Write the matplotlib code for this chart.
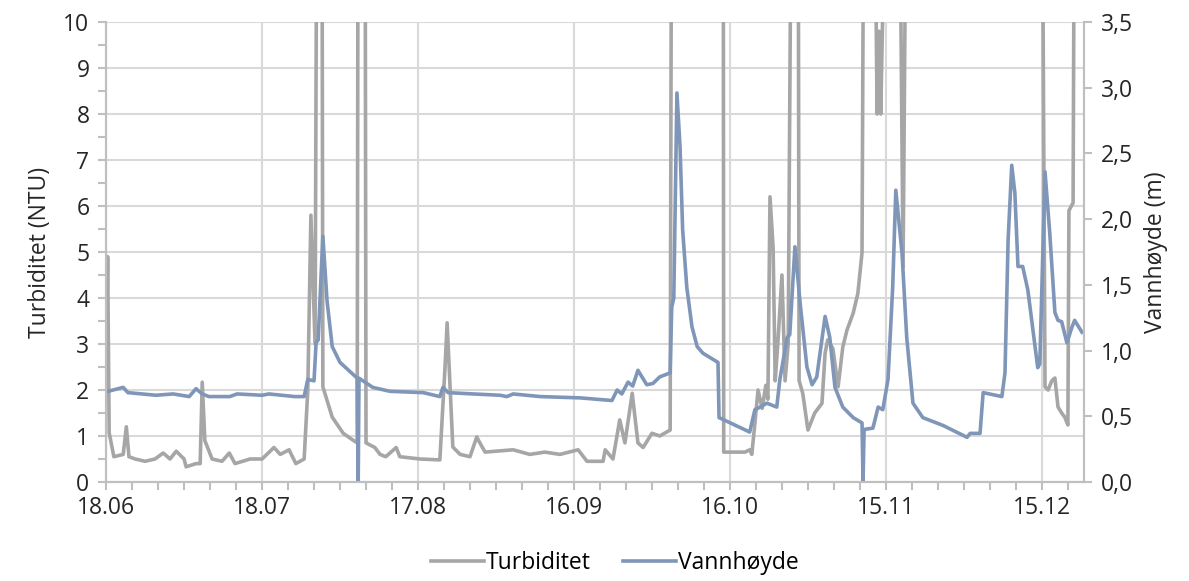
import matplotlib.pyplot as plt
from matplotlib.ticker import MultipleLocator, FuncFormatter

# days after 18.06, turbidity (NTU); values of 15 are off the top of the scale
turb_day = [0, 0.3, 0.6, 1.5, 3.3, 3.9, 4.4, 5.6, 7.5, 9.4, 11.0, 12.3, 13.5, 15.0, 15.4,
            17.3, 18.1, 18.5, 19.0, 20.4, 22.3, 23.7, 24.8, 27.7, 30.0, 32.3, 33.5, 35.2,
            36.5, 38.1, 38.8, 39.4, 40.2, 40.6, 41.5, 41.7, 43.5, 45.6, 47.5, 48.3, 48.5,
            49.8, 50.0, 51.7, 52.7, 53.8, 55.8, 56.5, 60.4, 64.2, 65.2, 65.6, 66.2, 66.7,
            68.1, 70.0, 71.3, 71.9, 72.9, 78.3, 81.5, 84.4, 87.3, 90.8, 92.5, 95.6, 96.0,
            97.5, 98.8, 99.8, 101.2, 102.3, 103.3, 105.0, 106.5, 108.5, 108.8, 118.7,
            118.8, 122.9, 123.8, 124.2, 124.8, 125.4, 126.2, 126.9, 127.3, 127.7, 128.3,
            128.7, 129.2, 130.0, 130.6, 131.2, 131.9, 133.1, 133.3, 134.0, 135.0, 136.3,
            137.7, 138.3, 138.8, 139.8, 140.8, 141.7, 142.5, 143.7, 144.6, 145.4, 145.8,
            147.7, 148.3, 148.7, 149.0, 149.4, 150.0, 152.5, 153.3, 154.0, 180.0, 180.6,
            181.2, 181.9, 182.5, 183.1, 183.8, 184.4, 185.0, 185.2, 186.0, 186.3]
turb_val = [2.0, 4.9, 1.07, 0.55, 0.6, 1.2, 0.55, 0.5, 0.45, 0.5, 0.63, 0.5, 0.67, 0.5, 0.33,
            0.4, 0.4, 2.17, 0.9, 0.5, 0.45, 0.63, 0.4, 0.5, 0.5, 0.75, 0.6, 0.7,
            0.4, 0.5, 2.0, 5.8, 3.0, 15, 15, 2.07, 1.41, 1.06, 0.91, 0.85, 15,
            15, 0.85, 0.75, 0.6, 0.55, 0.75, 0.55, 0.5, 0.48, 2.5, 3.46, 2.0, 0.76,
            0.6, 0.55, 0.98, 0.85, 0.65, 0.7, 0.6, 0.65, 0.6, 0.7, 0.45, 0.45, 0.7,
            0.5, 1.35, 0.85, 1.93, 0.85, 0.75, 1.06, 1.0, 1.13, 15, 15,
            0.65, 0.65, 0.7, 0.6, 1.28, 2.0, 1.6, 2.1, 1.8, 6.2, 5.1,
            2.2, 3.0, 4.5, 2.2, 3.0, 15, 15, 2.2, 1.93, 1.13, 1.5,
            1.71, 2.8, 3.09, 2.9, 2.07, 2.93, 3.3, 3.67, 4.1, 4.98, 15,
            15, 8.0, 9.8, 8.0, 10.2, 15, 15, 4.67, 15, 15, 2.07,
            2.0, 2.2, 2.26, 1.63, 1.5, 1.41, 1.24, 5.9, 6.07, 15]

# water level (m)
level_day = [0.4, 3.3, 4.2, 9.6, 12.9, 16.0, 17.3, 18.5, 19.8, 23.8, 25.2, 30.0, 31.3, 36.3,
             38.1, 38.8, 40.0, 40.4, 40.8, 41.7, 42.5, 43.5, 45.0, 48.3, 48.5, 48.65, 51.3,
             54.6, 61.0, 64.2, 64.8, 65.8, 70.6, 75.8, 77.1, 78.3, 83.5, 91.2, 97.3, 98.3,
             99.2, 100.4, 101.3, 102.3, 104.0, 105.2, 106.5, 108.5, 108.8, 109.2, 109.8,
             110.4, 110.9, 111.7, 112.7, 113.7, 114.8, 117.7, 117.9, 123.8, 124.8, 125.8,
             127.1, 129.0, 129.6, 131.0, 131.5, 132.5, 133.5, 134.8, 135.8, 136.7, 138.3,
             139.2, 140.2, 141.7, 143.7, 145.4, 145.6, 145.8, 147.5, 148.5, 149.4, 150.4,
             151.3, 151.9, 153.1, 154.0, 155.2, 157.1, 161.0, 165.6, 166.2, 168.1, 168.7,
             172.3, 172.9, 173.5, 174.2, 174.8, 175.4, 176.3, 177.3, 179.2, 179.6, 180.6,
             181.5, 182.5, 183.1, 183.8, 184.8, 185.8, 186.3, 187.7]
level_val = [0.69, 0.72, 0.68, 0.66, 0.67, 0.65, 0.71, 0.67, 0.65, 0.65, 0.67, 0.66, 0.67, 0.65,
             0.65, 0.78, 0.77, 1.06, 1.08, 1.87, 1.38, 1.03, 0.91, 0.79, 0.0, 0.79, 0.72,
             0.69, 0.68, 0.65, 0.72, 0.68, 0.67, 0.66, 0.65, 0.67, 0.65, 0.64, 0.62, 0.70,
             0.67, 0.76, 0.73, 0.85, 0.74, 0.75, 0.80, 0.83, 1.33, 1.4, 2.96,
             2.55, 1.92, 1.48, 1.18, 1.03, 0.98, 0.91, 0.49, 0.38, 0.55, 0.57,
             0.60, 0.57, 0.78, 1.10, 1.12, 1.79, 1.36, 0.875, 0.74, 0.80, 1.26,
             1.1, 0.72, 0.57, 0.49, 0.45, 0.0, 0.40, 0.41, 0.57, 0.55, 0.78,
             1.48, 2.22, 1.74, 1.10, 0.60, 0.49, 0.43, 0.34, 0.37, 0.37, 0.68,
             0.65, 0.83, 1.84, 2.41, 2.2, 1.64, 1.64, 1.46, 0.87, 0.9, 2.36,
             1.9, 1.29, 1.23, 1.22, 1.06, 1.18, 1.23, 1.14]

tick_days = [0, 30, 60, 90, 120, 150, 180]
tick_labels = ['18.06', '18.07', '17.08', '16.09', '16.10', '15.11', '15.12']

plt.rcParams['font.family'] = ['Open Sans', 'DejaVu Sans']
axis_col = '#bfbfbf'
grid_col = '#d9d9d9'
txt_col = '#262626'
fs = 16.5

fig = plt.figure(figsize=(11.89, 5.81), dpi=100)
ax = fig.add_axes([0.0892, 0.1704, 0.8225, 0.7917])
ax2 = ax.twinx()

l1, = ax.plot(turb_day, turb_val, color='#a6a6a6', lw=2.6, label='Turbiditet')
l2, = ax2.plot(level_day, level_val, color='#7f96b8', lw=2.6, label='Vannhøyde')

ax.set_xlim(0, 188.1)
ax.set_ylim(0, 10)
ax2.set_ylim(0, 3.5)

ax.set_xticks(tick_days)
ax.set_xticklabels(tick_labels)
ax.xaxis.set_minor_locator(MultipleLocator(5))
ax.yaxis.set_major_locator(MultipleLocator(1))
ax.yaxis.set_minor_locator(MultipleLocator(0.5))
ax2.yaxis.set_major_locator(MultipleLocator(0.5))
ax2.yaxis.set_major_formatter(FuncFormatter(lambda v, p: f'{v:.1f}'.replace('.', ',')))

ax.grid(True, which='major', color=grid_col, lw=1.5)
ax.set_axisbelow(True)

for a in (ax, ax2):
    for s in a.spines.values():
        s.set_color(axis_col)
        s.set_linewidth(1.5)
    a.spines['top'].set_visible(False)
    a.tick_params(which='both', color=axis_col, width=1.5, length=6,
                  labelsize=fs, labelcolor=txt_col)
ax.tick_params(axis='x', pad=4)
ax.tick_params(axis='y', pad=6)
ax2.tick_params(axis='y', pad=6)

ax.set_ylabel('Turbiditet (NTU)', fontsize=fs, color=txt_col, labelpad=8)
ax2.set_ylabel('Vannhøyde (m)', fontsize=fs, color=txt_col, labelpad=8)

fig.legend([l1, l2], ['Turbiditet', 'Vannhøyde'], loc='center', bbox_to_anchor=(0.517, 0.031),
           ncol=2, frameon=False, fontsize=fs, handlelength=2.3, handletextpad=0.1,
           columnspacing=1.4)

fig.savefig('out.png', dpi=100)
